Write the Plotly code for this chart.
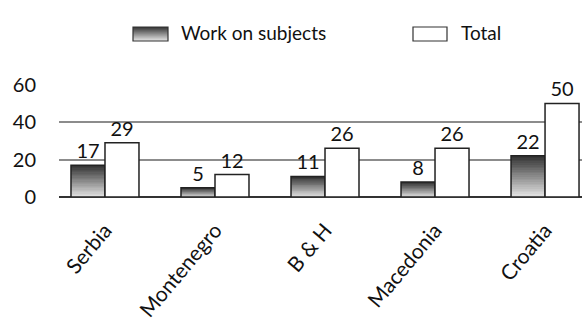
import plotly.graph_objects as go

countries = ["Serbia", "Montenegro", "B & H", "Macedonia", "Croatia"]
work_on_subjects = [17, 5, 11, 8, 22]
total = [29, 12, 26, 26, 50]
y_ticks = [0, 20, 40, 60]

FONT = "Lato"
W, H = 582, 320
ML, MR, MT, MB = 59, 0, 84, 123
PW = W - ML - MR

def lerp(c1, c2, t):
    return "rgb(%d,%d,%d)" % tuple(round(a + (b - a) * t) for a, b in zip(c1, c2))

DARK = (50, 50, 50)
LIGHT = (232, 232, 232)
N = 24

fig = go.Figure()
# gradient-filled "Work on subjects" bars, built as stacked slices of each value
for i in range(N):
    t = (i + 0.5) / N
    fig.add_trace(go.Bar(
        x=countries,
        y=[v / N for v in work_on_subjects],
        base=[v * i / N for v in work_on_subjects],
        offsetgroup="work",
        marker=dict(color=lerp(LIGHT, DARK, t), line=dict(width=0)),
        showlegend=False, hoverinfo="skip",
    ))
# outline + labels
fig.add_trace(go.Bar(
    x=countries, y=work_on_subjects, offsetgroup="work", name="Work on subjects",
    marker=dict(color="rgba(0,0,0,0)", line=dict(color="#222", width=1.5)),
    text=work_on_subjects, textposition="outside",
    textfont=dict(family=FONT, size=20, color="#111"),
    cliponaxis=False, showlegend=False,
))
fig.add_trace(go.Bar(
    x=countries, y=total, offsetgroup="total", name="Total",
    marker=dict(color="white", line=dict(color="#222", width=1.5)),
    text=total, textposition="outside",
    textfont=dict(family=FONT, size=20, color="#111"),
    cliponaxis=False, showlegend=False,
))

def px2paper_x(px):
    return (px - ML) / PW

def py2paper_y(py):
    return (H - MB - py) / (H - MT - MB)

shapes = []
# legend swatch 1: gradient
sx0, sx1, sy0, sy1 = 133, 168, 27, 41
steps = 14
for k in range(steps):
    t = (k + 0.5) / steps
    shapes.append(dict(type="rect", xref="paper", yref="paper",
                       x0=px2paper_x(sx0), x1=px2paper_x(sx1),
                       y0=py2paper_y(sy0 + k), y1=py2paper_y(sy0 + k + 1),
                       fillcolor=lerp(DARK, LIGHT, t), line=dict(width=0)))
shapes.append(dict(type="rect", xref="paper", yref="paper",
                   x0=px2paper_x(sx0), x1=px2paper_x(sx1),
                   y0=py2paper_y(sy0), y1=py2paper_y(sy1),
                   line=dict(color="#333", width=1.2)))
shapes.append(dict(type="rect", xref="paper", yref="paper",
                   x0=px2paper_x(413), x1=px2paper_x(447),
                   y0=py2paper_y(27), y1=py2paper_y(41),
                   fillcolor="white", line=dict(color="#333", width=1.2)))

annotations = [
    dict(text="Work on subjects", xref="paper", yref="paper",
         x=px2paper_x(179), y=py2paper_y(33), xanchor="left", yanchor="middle",
         showarrow=False, font=dict(family=FONT, size=19, color="#111")),
    dict(text="Total", xref="paper", yref="paper",
         x=px2paper_x(459), y=py2paper_y(33), xanchor="left", yanchor="middle",
         showarrow=False, font=dict(family=FONT, size=19, color="#111")),
]

fig.update_layout(
    width=W, height=H,
    margin=dict(l=ML, r=MR, t=MT, b=MB, pad=0, autoexpand=False),
    plot_bgcolor="white", paper_bgcolor="white",
    barmode="group", bargap=0.382, bargroupgap=0,
    showlegend=False,
    shapes=shapes, annotations=annotations,
    font=dict(family=FONT, size=20, color="#111"),
)
fig.update_xaxes(
    range=[-0.418, 4.336], tickangle=-50, automargin=False,
    tickfont=dict(family=FONT, size=21, color="#111"),
    showgrid=False, showline=False, ticks="", ticklabelstandoff=16,
)
fig.update_yaxes(
    range=[0, 60.4], tickvals=y_ticks, ticktext=[str(v) for v in y_ticks],
    tickfont=dict(family=FONT, size=20, color="#111"), automargin=False,
    showgrid=True, gridcolor="#8c8c8c", gridwidth=1.5,
    zeroline=True, zerolinecolor="#333", zerolinewidth=2,
    showline=False, ticks="", ticklabelstandoff=22,
)

fig.write_html(
    "out.html",
    config={"displayModeBar": False},
    post_script="document.body.style.margin='0';document.body.style.overflow='hidden';",
)
